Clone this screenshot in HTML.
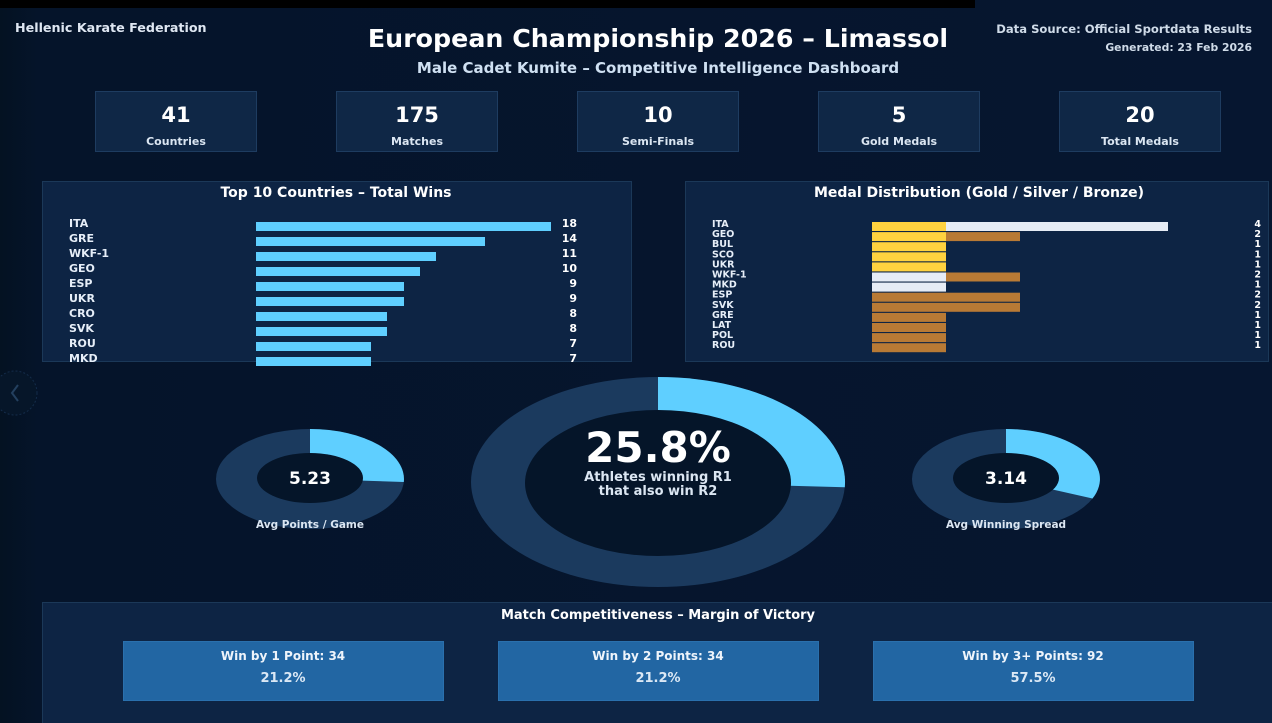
<!DOCTYPE html>
<html><head><meta charset="utf-8"><style>
html,body{margin:0;padding:0;background:#061630;}
svg{display:block;font-family:"DejaVu Sans","Liberation Sans",sans-serif;font-weight:bold;}
</style></head><body>
<svg width="1272" height="723" viewBox="0 0 1272 723" xmlns="http://www.w3.org/2000/svg">
<defs>
<linearGradient id="bg" x1="0" x2="1" y1="0" y2="0">
<stop offset="0" stop-color="#041222"/><stop offset="0.03" stop-color="#05142a"/><stop offset="1" stop-color="#061630"/>
</linearGradient>
</defs>
<rect width="1272" height="723" fill="url(#bg)"/>
<rect x="0" y="0" width="975" height="8" fill="#000"/>
<!-- header -->
<text x="15" y="32" fill="#dfe7f2" font-size="12.7">Hellenic Karate Federation</text>
<text x="658" y="47" fill="#fff" font-size="25.3" text-anchor="middle">European Championship 2026 – Limassol</text>
<text x="658" y="73" fill="#cfe0f2" font-size="15" text-anchor="middle">Male Cadet Kumite – Competitive Intelligence Dashboard</text>
<text x="1252" y="33" fill="#cfdbe8" font-size="11.6" text-anchor="end">Data Source: Official Sportdata Results</text>
<text x="1252" y="51" fill="#cfdbe8" font-size="10.8" text-anchor="end">Generated: 23 Feb 2026</text>
<!-- KPIs -->
<g fill="#0f2746" stroke="#1e3c60" stroke-width="1">
<rect x="95.5" y="91.5" width="161" height="60"/>
<rect x="336.5" y="91.5" width="161" height="60"/>
<rect x="577.5" y="91.5" width="161" height="60"/>
<rect x="818.5" y="91.5" width="161" height="60"/>
<rect x="1059.5" y="91.5" width="161" height="60"/>
</g>
<g fill="#fff" font-size="21" text-anchor="middle">
<text x="176" y="122">41</text><text x="417" y="122">175</text><text x="658" y="122">10</text><text x="899" y="122">5</text><text x="1140" y="122">20</text>
</g>
<g fill="#dbe6f2" font-size="11" text-anchor="middle">
<text x="176" y="145">Countries</text><text x="417" y="145">Matches</text><text x="658" y="145">Semi-Finals</text><text x="899" y="145">Gold Medals</text><text x="1140" y="145">Total Medals</text>
</g>
<!-- panels -->
<rect x="42.5" y="181.5" width="589" height="180" fill="#0d2444" stroke="#1b3858"/>
<rect x="685.5" y="181.5" width="583" height="180" fill="#0d2444" stroke="#1b3858"/>
<text x="336" y="197" fill="#fff" font-size="14" text-anchor="middle">Top 10 Countries – Total Wins</text>
<text x="979" y="197" fill="#fff" font-size="14" text-anchor="middle">Medal Distribution (Gold / Silver / Bronze)</text>
<!-- top10 bars -->
<g fill="#5fcfff">
<rect x="256" y="222" width="295" height="9"/>
<rect x="256" y="237" width="229" height="9"/>
<rect x="256" y="252" width="180" height="9"/>
<rect x="256" y="267" width="164" height="9"/>
<rect x="256" y="282" width="148" height="9"/>
<rect x="256" y="297" width="148" height="9"/>
<rect x="256" y="312" width="131" height="9"/>
<rect x="256" y="327" width="131" height="9"/>
<rect x="256" y="342" width="115" height="9"/>
<rect x="256" y="357" width="115" height="9"/>
</g>
<g fill="#e6eef8" font-size="11">
<text x="69" y="227">ITA</text><text x="69" y="242">GRE</text><text x="69" y="257">WKF-1</text><text x="69" y="272">GEO</text><text x="69" y="287">ESP</text><text x="69" y="302">UKR</text><text x="69" y="317">CRO</text><text x="69" y="332">SVK</text><text x="69" y="347">ROU</text><text x="69" y="362">MKD</text>
</g>
<g fill="#fff" font-size="11" text-anchor="end">
<text x="577" y="227">18</text><text x="577" y="242">14</text><text x="577" y="257">11</text><text x="577" y="272">10</text><text x="577" y="287">9</text><text x="577" y="302">9</text><text x="577" y="317">8</text><text x="577" y="332">8</text><text x="577" y="347">7</text><text x="577" y="362">7</text>
</g>
<!-- medal bars -->
<g>
<rect x="872" y="222" width="74" height="9" fill="#ffd23f"/><rect x="946" y="222" width="222" height="9" fill="#e6ecf5"/>
<rect x="872" y="232.1" width="74" height="9" fill="#ffd23f"/><rect x="946" y="232.1" width="74" height="9" fill="#b87a35"/>
<rect x="872" y="242.2" width="74" height="9" fill="#ffd23f"/>
<rect x="872" y="252.3" width="74" height="9" fill="#ffd23f"/>
<rect x="872" y="262.4" width="74" height="9" fill="#ffd23f"/>
<rect x="872" y="272.5" width="74" height="9" fill="#e6ecf5"/><rect x="946" y="272.5" width="74" height="9" fill="#b87a35"/>
<rect x="872" y="282.6" width="74" height="9" fill="#e6ecf5"/>
<rect x="872" y="292.7" width="148" height="9" fill="#b87a35"/>
<rect x="872" y="302.8" width="148" height="9" fill="#b87a35"/>
<rect x="872" y="312.9" width="74" height="9" fill="#b87a35"/>
<rect x="872" y="323" width="74" height="9" fill="#b87a35"/>
<rect x="872" y="333.1" width="74" height="9" fill="#b87a35"/>
<rect x="872" y="343.2" width="74" height="9" fill="#b87a35"/>
</g>
<g fill="#e6eef8" font-size="9.5">
<text x="712" y="227">ITA</text><text x="712" y="237.1">GEO</text><text x="712" y="247.2">BUL</text><text x="712" y="257.3">SCO</text><text x="712" y="267.4">UKR</text><text x="712" y="277.5">WKF-1</text><text x="712" y="287.6">MKD</text><text x="712" y="297.7">ESP</text><text x="712" y="307.8">SVK</text><text x="712" y="317.9">GRE</text><text x="712" y="328">LAT</text><text x="712" y="338.1">POL</text><text x="712" y="348.2">ROU</text>
</g>
<g fill="#fff" font-size="9.5" text-anchor="end">
<text x="1261" y="227">4</text><text x="1261" y="237.1">2</text><text x="1261" y="247.2">1</text><text x="1261" y="257.3">1</text><text x="1261" y="267.4">1</text><text x="1261" y="277.5">2</text><text x="1261" y="287.6">1</text><text x="1261" y="297.7">2</text><text x="1261" y="307.8">2</text><text x="1261" y="317.9">1</text><text x="1261" y="328">1</text><text x="1261" y="338.1">1</text><text x="1261" y="348.2">1</text>
</g>
<!-- left nav circle -->
<circle cx="15" cy="393" r="22" fill="#061629" stroke="#142c4a" stroke-dasharray="2 2"/>
<path d="M18 385 L12 393 L18 401" fill="none" stroke="#23405f" stroke-width="2"/>
<!-- donut left -->
<ellipse cx="310" cy="479" rx="94" ry="50" fill="#1b3a5e"/>
<path d="M310 479 L310 429 A94 50 0 0 1 403.8 482 Z" fill="#5fcfff"/>
<ellipse cx="310" cy="478" rx="53" ry="25" fill="#051529"/>
<text x="310" y="484" fill="#fff" font-size="17" text-anchor="middle">5.23</text>
<text x="310" y="528" fill="#dbe6f2" font-size="10.5" text-anchor="middle">Avg Points / Game</text>
<!-- donut big -->
<ellipse cx="658" cy="482" rx="187" ry="105" fill="#1b3a5e"/>
<path d="M658 482 L658 377 A187 105 0 0 1 844.8 487.3 Z" fill="#5fcfff"/>
<ellipse cx="658" cy="483" rx="133" ry="73" fill="#051529"/>
<text x="658" y="462" fill="#fff" font-size="42" text-anchor="middle">25.8%</text>
<text x="658" y="481" fill="#dbe6f2" font-size="13" text-anchor="middle">Athletes winning R1</text>
<text x="658" y="495" fill="#dbe6f2" font-size="13" text-anchor="middle">that also win R2</text>
<!-- donut right -->
<ellipse cx="1006" cy="479" rx="94" ry="50" fill="#1b3a5e"/>
<path d="M1006 479 L1006 429 A94 50 0 0 1 1092.5 498.5 Z" fill="#5fcfff"/>
<ellipse cx="1006" cy="478" rx="53" ry="25" fill="#051529"/>
<text x="1006" y="484" fill="#fff" font-size="17" text-anchor="middle">3.14</text>
<text x="1006" y="528" fill="#dbe6f2" font-size="10.5" text-anchor="middle">Avg Winning Spread</text>
<!-- bottom panel -->
<rect x="42.5" y="602.5" width="1240" height="130" fill="#0d2444" stroke="#1b3858"/>
<text x="658" y="619" fill="#fff" font-size="13" text-anchor="middle">Match Competitiveness – Margin of Victory</text>
<g fill="#2266a3" stroke="#2a70ad">
<rect x="123.5" y="641.5" width="320" height="59"/>
<rect x="498.5" y="641.5" width="320" height="59"/>
<rect x="873.5" y="641.5" width="320" height="59"/>
</g>
<g fill="#eef4fb" font-size="12" text-anchor="middle">
<text x="283" y="660">Win by 1 Point: 34</text><text x="658" y="660">Win by 2 Points: 34</text><text x="1033" y="660">Win by 3+ Points: 92</text>
</g>
<g fill="#dbe8f5" font-size="13" text-anchor="middle">
<text x="283" y="682">21.2%</text><text x="658" y="682">21.2%</text><text x="1033" y="682">57.5%</text>
</g>
</svg>
</body></html>
